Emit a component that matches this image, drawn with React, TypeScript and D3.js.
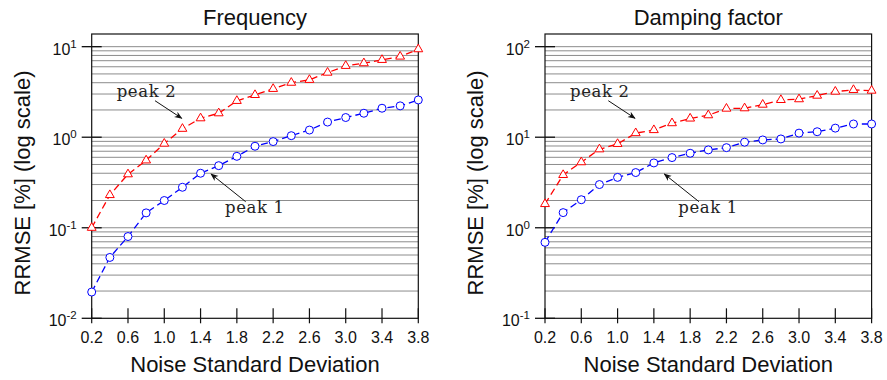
import React from 'react';
import * as d3 from 'd3';

// ---- data ----
const noise = [0.2, 0.4, 0.6, 0.8, 1.0, 1.2, 1.4, 1.6, 1.8, 2.0, 2.2, 2.4, 2.6, 2.8, 3.0, 3.2, 3.4, 3.6, 3.8];
const freqPeak1 = [0.0195, 0.047, 0.08, 0.146, 0.2, 0.28, 0.40, 0.485, 0.615, 0.795, 0.895, 1.04, 1.2, 1.47, 1.65, 1.84, 2.09, 2.22, 2.58];
const freqPeak2 = [0.1, 0.23, 0.39, 0.555, 0.85, 1.24, 1.62, 1.84, 2.52, 2.93, 3.42, 4.0, 4.3, 5.17, 6.14, 6.57, 7.15, 7.78, 9.38];
const dampPeak1 = [0.69, 1.47, 2.04, 3.0, 3.6, 4.07, 5.2, 5.96, 6.65, 7.24, 7.67, 8.81, 9.33, 9.57, 11.1, 11.5, 12.6, 14.0, 14.0];
const dampPeak2 = [1.83, 3.83, 5.3, 7.36, 8.44, 11.1, 12.0, 14.3, 16.1, 17.5, 20.7, 20.9, 22.9, 25.8, 26.3, 28.8, 31.9, 33.3, 32.7];
const xTickValues = [0.2, 0.6, 1.0, 1.4, 1.8, 2.2, 2.6, 3.0, 3.4, 3.8];
const panelTitles = ['Frequency', 'Damping factor'];
const yDecades = [[-2, 1], [-1, 2]];
const xLabel = 'Noise Standard Deviation';
const yLabel = 'RRMSE [%] (log scale)';
const seriesNames = ['peak 1', 'peak 2'];

const W = 887;
const H = 380;
const plotTop = 34;
const plotBottom = 318.3;
const plotW = 326.6;
const panelLefts = [91.7, 545];
const topExtra = 0.14; // decades above the top label

const FONT = "'Liberation Sans', Arial, sans-serif";
const SERIF = "'DejaVu Serif', serif";

function Panel({ idx, p1, p2 }: { idx: number; p1: number[]; p2: number[] }) {
  const x0 = panelLefts[idx];
  const [dLo, dHi] = yDecades[idx];
  const x = d3.scaleLinear().domain([0.2, 3.8]).range([x0, x0 + plotW]);
  const y = d3
    .scaleLog()
    .domain([Math.pow(10, dLo), Math.pow(10, dHi + topExtra)])
    .range([plotBottom, plotTop]);
  const line = d3
    .line<number>()
    .x((_, i) => x(noise[i]))
    .y((d) => y(d));

  const grid: number[] = [];
  for (let d = dLo; d <= dHi; d++) {
    for (let k = 1; k <= 9; k++) {
      const v = k * Math.pow(10, d);
      if (v > Math.pow(10, dLo) && v <= y.domain()[1]) grid.push(v);
    }
  }
  const majors: number[] = [];
  for (let d = dLo; d <= dHi; d++) majors.push(d);

  const fx = (f: number) => x0 + f * plotW;
  const fy = (f: number) => plotTop + f * (plotBottom - plotTop);
  const tri = d3.symbol().type(d3.symbolTriangle).size(34)() as string;
  const cx = x0 + plotW / 2;

  return (
    <g>
      <text x={cx} y={25} textAnchor="middle" fontFamily={FONT} fontSize={22} fill="#111">
        {panelTitles[idx]}
      </text>
      {grid.map((v, i) => (
        <line key={'g' + i} x1={x0} x2={x0 + plotW} y1={y(v)} y2={y(v)} stroke="#8c8c8c" strokeWidth={1} />
      ))}
      {/* axes box */}
      <rect x={x0} y={plotTop} width={plotW} height={plotBottom - plotTop} fill="none" stroke="#111" strokeWidth={1.2} />
      {/* y major ticks and labels */}
      {majors.map((d) => (
        <g key={'m' + d}>
          <line x1={x0 - 10} x2={x0 + 10} y1={y(Math.pow(10, d))} y2={y(Math.pow(10, d))} stroke="#111" strokeWidth={1.3} />
          <text x={x0 - 15} y={y(Math.pow(10, d)) + 8} textAnchor="end" fontFamily={FONT} fontSize={16} fill="#111">
            10
            <tspan dy={-7} fontSize={11.5}>{String(d)}</tspan>
          </text>
        </g>
      ))}
      {/* x ticks */}
      {xTickValues.map((v) => (
        <g key={'x' + v}>
          <line x1={x(v)} x2={x(v)} y1={plotBottom - 10} y2={plotBottom + 5} stroke="#111" strokeWidth={1.2} />
          <text x={x(v)} y={plotBottom + 25} textAnchor="middle" fontFamily={FONT} fontSize={16} fill="#111">
            {v.toFixed(1)}
          </text>
        </g>
      ))}
      <text x={cx} y={372} textAnchor="middle" fontFamily={FONT} fontSize={22} fill="#111">
        {xLabel}
      </text>
      <text
        transform={`translate(${x0 - 62},${183}) rotate(-90)`}
        textAnchor="middle"
        fontFamily={FONT}
        fontSize={22}
        fill="#111"
      >
        {yLabel}
      </text>
      {/* series */}
      <path d={line(p2) || ''} fill="none" stroke="#ff0000" strokeWidth={1.3} strokeDasharray="7,4" />
      <path d={line(p1) || ''} fill="none" stroke="#0000ff" strokeWidth={1.3} strokeDasharray="7,4" />
      {p2.map((v, i) => (
        <path key={'t' + i} d={tri} transform={`translate(${x(noise[i])},${y(v)})`} fill="white" stroke="#ff0000" strokeWidth={1} />
      ))}
      {p1.map((v, i) => (
        <circle key={'c' + i} cx={x(noise[i])} cy={y(v)} r={4} fill="white" stroke="#0000ff" strokeWidth={1} />
      ))}
      {/* annotations */}
      <text x={fx(0.0765)} y={fy(0.2205)} fontFamily={SERIF} fontSize={16.5} fill="#222" textLength={59} lengthAdjust="spacing">
        {seriesNames[1]}
      </text>
      <line x1={fx(0.1938)} y1={fy(0.2346)} x2={fx(0.2756)} y2={fy(0.2965)} stroke="#111" strokeWidth={1} markerEnd="url(#arrow)" />
      <text x={fx(0.408)} y={fy(0.6307)} fontFamily={SERIF} fontSize={16.5} fill="#222" textLength={59} lengthAdjust="spacing">
        {seriesNames[0]}
      </text>
      <line x1={fx(0.4715)} y1={fy(0.5899)} x2={fx(0.3653)} y2={fy(0.4924)} stroke="#111" strokeWidth={1} markerEnd="url(#arrow)" />
    </g>
  );
}

export default function App() {
  return (
    <svg width={W} height={H} style={{ position: 'absolute', left: 0, top: 0, background: 'white' }}>
      <defs>
        <marker id="arrow" viewBox="0 0 10 10" refX="9" refY="5" markerWidth="8" markerHeight="8" orient="auto" markerUnits="userSpaceOnUse">
          <path d="M0,1 L10,5 L0,9 L3,5 Z" fill="#111" />
        </marker>
      </defs>
      <rect x={0} y={0} width={W} height={H} fill="white" />
      <Panel idx={0} p1={freqPeak1} p2={freqPeak2} />
      <Panel idx={1} p1={dampPeak1} p2={dampPeak2} />
    </svg>
  );
}
